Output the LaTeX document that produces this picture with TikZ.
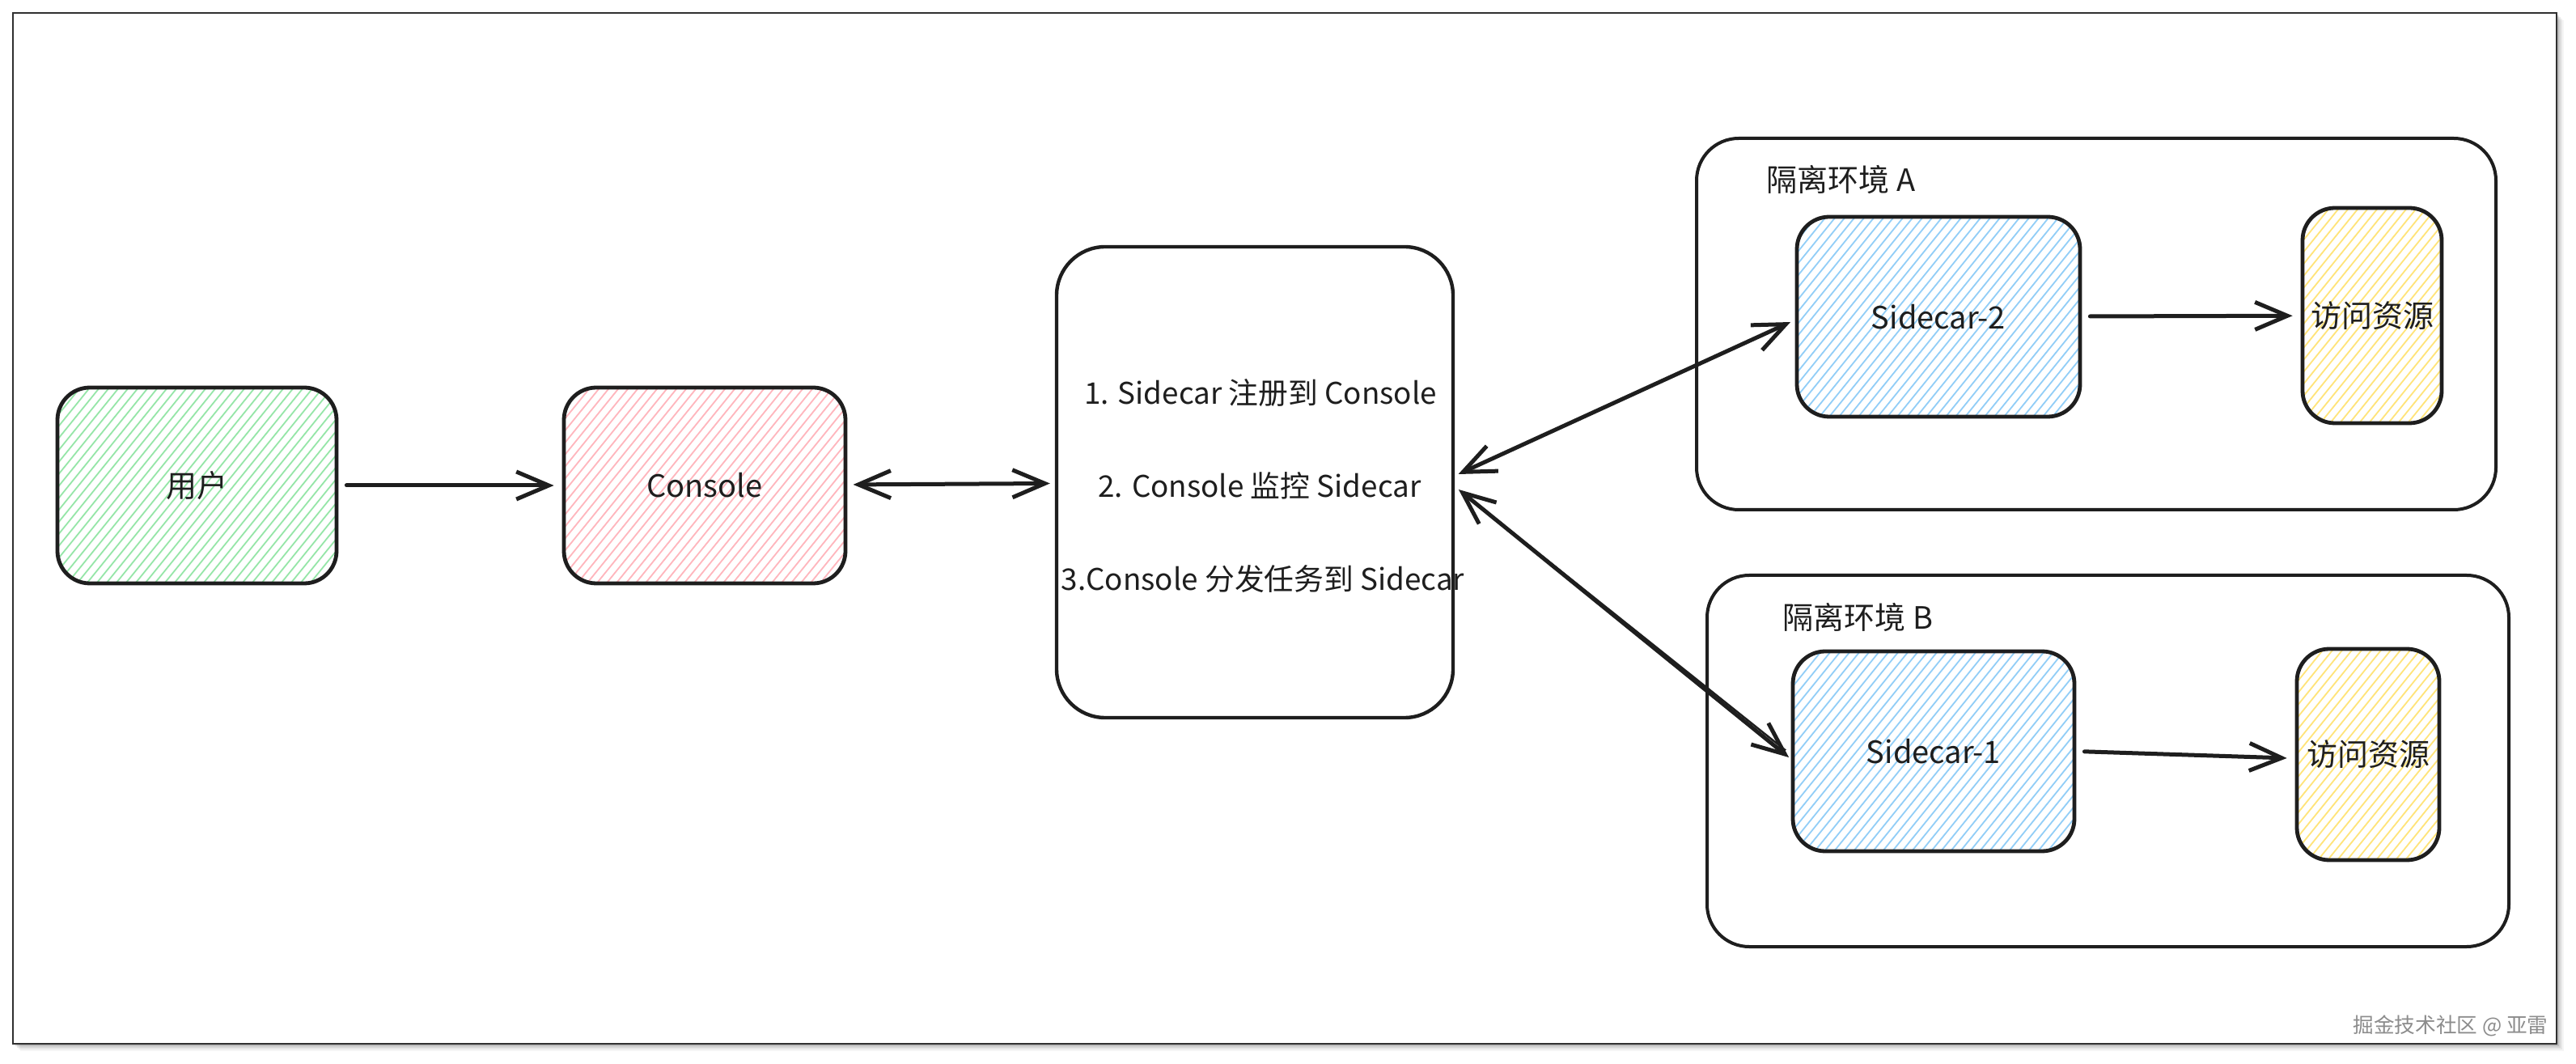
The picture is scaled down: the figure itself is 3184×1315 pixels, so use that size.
\documentclass[tikz,border=0pt]{standalone}
\usepackage{fontspec}
\setmainfont{Noto Sans CJK SC}
\usetikzlibrary{arrows.meta,calc}
\definecolor{ink}{HTML}{1E1E1E}
\definecolor{hgreen}{HTML}{96E6A8}
\definecolor{hpink}{HTML}{FFB6BD}
\definecolor{hblue}{HTML}{92CEF7}
\definecolor{hyellow}{HTML}{FFE47A}
\definecolor{framec}{HTML}{303030}
\tikzset{
  box/.style={draw=ink, line width=1.2pt, rounded corners=10pt, inner sep=0pt, text=ink, align=center},
  envbox/.style={draw=ink, line width=1pt, rounded corners=13pt, inner sep=0pt},
  midbox/.style={draw=ink, line width=1.1pt, rounded corners=15pt, inner sep=0pt},
  hatch/.style={path picture={
    \begin{scope}[shift={(path picture bounding box.center)}]
      \foreach \d in {-600,-588,...,600}
        \draw[#1, line width=0.45pt] (\d-400,494) -- (\d+400,-494);
    \end{scope}}},
  arr/.style={draw=ink, line width=1.25pt, line cap=round, -{Straight Barb[length=10pt,width=8.5pt]}},
  biarr/.style={draw=ink, line width=1.25pt, line cap=round, {Straight Barb[length=10pt,width=8.5pt]}-{Straight Barb[length=10pt,width=8.5pt]}},
  lbl/.style={text=ink, inner sep=0pt}
}
\begin{document}
\begin{tikzpicture}[x=0.25pt,y=-0.25pt,font=\fontsize{9.5}{11}\selectfont]
\useasboundingbox (0,0) rectangle (3184,1315);
% frame with shadow
\foreach \o/\op in {9/0.04,7/0.06,5/0.08,3/0.12}
  \fill[black,opacity=\op] (16+\o,16+\o) rectangle (3160+\o,1290+\o);
\fill[white] (16,16) rectangle (3160,1290);
\draw[framec, line width=0.7pt] (16,16) rectangle (3160,1290);

% left nodes
\node[box, hatch=hgreen, minimum width=86.25pt, minimum height=60.5pt] (user) at (243.5,600) {用户};
\node[box, hatch=hpink, minimum width=87pt, minimum height=60.5pt] (console) at (871,600) {Console};

% middle box
\node[midbox, minimum width=122.5pt, minimum height=145.5pt] (mid) at (1551,596) {};
\begin{scope}[font=\fontsize{9.2}{11}\selectfont]
\node[lbl] (t1) at (1558,486) {1. Sidecar 注册到 Console};
\node[lbl] (t2) at (1557,600) {2. Console 监控 Sidecar};
\node[lbl] (t3) at (1561,715) {3.Console 分发任务到 Sidecar};
\end{scope}

% environment A
\node[envbox, minimum width=247pt, minimum height=114.75pt] (envA) at (2591,400.5) {};
\node[lbl, anchor=west] (labA) at (2183,222) {隔离环境 A};
\node[box, hatch=hblue, minimum width=87.5pt, minimum height=61.75pt] (s2) at (2396,391.5) {Sidecar-2};
\node[box, hatch=hyellow, minimum width=43pt, minimum height=66.5pt] (resA) at (2932,390) {访问资源};

% environment B
\node[envbox, minimum width=247.75pt, minimum height=114.75pt] (envB) at (2605.5,940.5) {};
\node[lbl, anchor=west] (labB) at (2203,763) {隔离环境 B};
\node[box, hatch=hblue, minimum width=87pt, minimum height=61.75pt] (s1) at (2390,928.5) {Sidecar-1};
\node[box, hatch=hyellow, minimum width=44pt, minimum height=65.25pt] (resB) at (2927,932.5) {访问资源};

% connectors
\draw[arr, shorten <=2.5pt, shorten >=2.5pt] (user) -- (console);
\draw[biarr, shorten <=1.8pt, shorten >=1.5pt] (console) -- (mid);
\draw[biarr, shorten <=1.2pt, shorten >=1.5pt] ([yshift=2pt]mid.east) -- ([yshift=-1pt]s2.west);
\draw[biarr, shorten <=1.5pt, shorten >=0.8pt] ([yshift=-1.3pt]mid.east) -- ([yshift=-2.4pt]s1.west);
\draw[ink, line width=0.6pt, shorten <=12pt, shorten >=3pt] ([yshift=-1.3pt]mid.east) -- ([xshift=0.7pt,yshift=-1.6pt]s1.west);
\draw[arr, shorten <=2.5pt, shorten >=2.5pt] (s2) -- (resA);
\draw[arr, shorten <=2.5pt, shorten >=2.5pt] (s1.east) -- ([yshift=-1.2pt]resB.west);

% watermark
\node[anchor=east, text=black!45, inner sep=0pt, font=\fontsize{6.4}{7}\selectfont] (wm) at (3150,1268) {掘金技术社区 @ 亚雷};
\end{tikzpicture}
\end{document}
